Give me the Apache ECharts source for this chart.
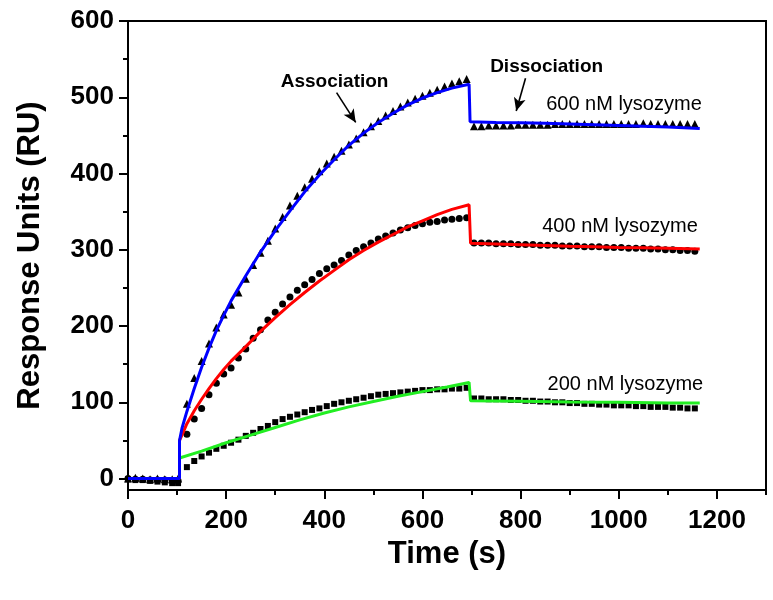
<!DOCTYPE html>
<html>
<head>
<meta charset="utf-8">
<script src="https://cdn.jsdelivr.net/npm/echarts@6/dist/echarts.min.js"></script>
<style>html,body{margin:0;padding:0;background:#fff;}#c{width:773px;height:600px;}</style>
</head>
<body>
<div id="c"></div>
<script>
// ---- measured data (time in s, response in RU) ----
const markerTime = [0,15,30,45,60,75,90,102,
  120,135,150,165,180,195,210,225,240,255,270,285,300,315,330,345,360,375,390,405,420,435,450,465,480,495,510,525,540,555,570,585,600,615,630,645,660,675,690,
  705,720,735,750,765,780,795,810,825,840,855,870,885,900,915,930,945,960,975,990,1005,1020,1035,1050,1065,1080,1095,1110,1125,1140,1155];

const tri600 = [0,1,0,-1,0,-1,-1,0,
  98,132,154,177,198,215,228,244,262,280,296,312,328,343,358,371,382,393,403,413,422,430,438,446,454,462,469,476,482,488,493,498,502,506,510,514,518,521,524,
  462,462,463,463,463,463,464,464,464,464,464,465,465,465,465,465,465,465,465,465,465,465,465,466,465,465,465,465,465,465,465];

const dot400 = [0,-1,-1,-2,-2,-2,-3,-3,
  58,78,92,110,125,137,145,158,170,184,195,208,218,229,238,247,254,261,269,275,280,286,293,299,304,309,314,318,322,326,329,332,334,336,337,339,340,341,342,
  309,309,309,308,308,308,307,307,307,306,306,306,305,305,305,304,304,304,303,303,303,302,302,302,301,301,300,300,299,299,298];

const sq200 = [-1,-2,-2,-3,-4,-5,-6,-6,
  15,23,29,34,39,43,47,51,56,60,65,69,74,78,81,84,87,90,92,95,98,100,102,104,106,108,110,111,112,113,114,115,116,116,117,117,118,118,119,
  105,105,104,104,104,103,103,102,102,101,101,100,100,99,99,98,98,97,97,96,96,96,95,95,94,94,94,93,93,92,92];

const fit600Time = [0,105,105,110,120,135,150,165,180,195,210,240,270,300,330,360,390,420,450,480,510,540,570,600,630,660,695,697,750,800,850,900,950,1000,1050,1100,1165];
const fit600 =     [0,0,50,66,88,118,146,171,194,214,233,266,297,325,351,376,398,418,437,453,467,479,490,499,506,512,517,468,467,466.5,466,465,464,463,462,461,459];

const fit400Time = [0,105,105,112,120,135,150,165,180,195,210,240,270,300,330,360,390,420,450,480,510,540,570,600,630,660,695,698,750,800,850,900,950,1000,1050,1100,1165];
const fit400 =     [0,0,50,60,72,89,104,118,131,143,154,173,193,211,228,244,259,273,287,299,310,320,330,338,346,353,359,308.5,307.5,306.5,305.5,304.5,304,303,302.5,302,301];

const fit200Time = [0,105,105,108,150,200,250,300,350,400,450,500,550,600,650,695,698,800,900,1000,1100,1165];
const fit200 =     [0,0,27,27,36,47,57,67,77,86,94,101,108,114,120,126,102,101.5,100.5,100,99,99];

const xMajorTicks = [0,200,400,600,800,1000,1200];
const xMinorTicks = [100,300,500,700,900,1100,1300];
const yMajorTicks = [0,100,200,300,400,500,600];
const yMinorTicks = [50,150,250,350,450,550];

// annotations (data coordinates)
const annoTexts = [
  {text:'Association', t:421, v:520, bold:true, align:'center'},
  {text:'Dissociation', t:853, v:540, bold:true, align:'center'},
  {text:'600 nM lysozyme', t:852, v:490, bold:false, align:'left'},
  {text:'400 nM lysozyme', t:844, v:330, bold:false, align:'left'},
  {text:'200 nM lysozyme', t:855, v:124, bold:false, align:'left'}
];
const annoArrows = [
  {from:[425,506], to:[464,467]},
  {from:[810,525], to:[791,482]}
];

const pairs = (xs, ys) => xs.map((x, i) => [x, ys[i]]);
const FONT = '"Liberation Sans", Arial, sans-serif';
const X_MIN = 0, X_MAX = 1300, Y_MIN = -15, Y_MAX = 600;

const chart = echarts.init(document.getElementById('c'), null, {renderer:'canvas'});

function xAxisDef(ticks, len, labels, showLine, name) {
  return {
    type:'value', min:X_MIN, max:X_MAX, position:'bottom',
    name: name || '', nameLocation:'middle', nameGap:44,
    nameTextStyle:{fontFamily:FONT, fontWeight:'bold', fontSize:31, color:'#000'},
    axisLine:{show:showLine, onZero:false, lineStyle:{color:'#000', width:2}},
    axisTick:{show:true, inside:false, length:len, customValues:ticks, lineStyle:{color:'#000', width:2}},
    axisLabel:{show:labels, customValues:ticks, margin:18, formatter:v => String(v), fontFamily:FONT, fontWeight:'bold', fontSize:26, color:'#000'},
    splitLine:{show:false}, minorTick:{show:false}
  };
}
function yAxisDef(ticks, len, labels, showLine, name) {
  return {
    type:'value', min:Y_MIN, max:Y_MAX, position:'left',
    name: name || '', nameLocation:'middle', nameGap:82,
    nameTextStyle:{fontFamily:FONT, fontWeight:'bold', fontSize:31, color:'#000'},
    axisLine:{show:showLine, onZero:false, lineStyle:{color:'#000', width:2}},
    axisTick:{show:true, inside:false, length:len, customValues:ticks, lineStyle:{color:'#000', width:2}},
    axisLabel:{show:labels, customValues:ticks, margin:14, formatter:v => String(v), fontFamily:FONT, fontWeight:'bold', fontSize:26, color:'#000'},
    splitLine:{show:false}, minorTick:{show:false}
  };
}

const markerStyle = {color:'#000', opacity:1};

chart.setOption({
  animation:false,
  backgroundColor:'#fff',
  grid:{left:128, right:7, top:21, bottom:110, show:true, borderColor:'#000', borderWidth:2, backgroundColor:'transparent'},
  xAxis:[xAxisDef(xMajorTicks, 9, true, true, 'Time (s)'), xAxisDef(xMinorTicks, 5, false, false)],
  yAxis:[yAxisDef(yMajorTicks, 9, true, true, 'Response Units (RU)'), yAxisDef(yMinorTicks, 5, false, false)],
  series:[
    {type:'scatter', name:'600 nM data', symbol:'triangle', symbolSize:8, itemStyle:markerStyle, data:pairs(markerTime, tri600), z:2},
    {type:'scatter', name:'400 nM data', symbol:'circle', symbolSize:7, itemStyle:markerStyle, data:pairs(markerTime, dot400), z:2},
    {type:'scatter', name:'200 nM data', symbol:'rect', symbolSize:6, itemStyle:markerStyle, data:pairs(markerTime, sq200), z:2},
    {type:'line', name:'200 nM fit', showSymbol:false, symbol:'none', lineStyle:{color:'#22ee22', width:3}, data:pairs(fit200Time, fit200), z:3},
    {type:'line', name:'400 nM fit', showSymbol:false, symbol:'none', lineStyle:{color:'#ff0000', width:3}, data:pairs(fit400Time, fit400), z:4},
    {type:'line', name:'600 nM fit', showSymbol:false, symbol:'none', lineStyle:{color:'#0000ff', width:3}, data:pairs(fit600Time, fit600), z:5,
      markLine:{silent:true, symbol:['none','arrow'], symbolSize:[9,13], animation:false,
        lineStyle:{color:'#000', width:1.6, type:'solid'}, label:{show:false},
        data: annoArrows.map(a => [{coord:a.from}, {coord:a.to}])}
    }
  ]
});

const g = annoTexts.map(a => {
  const p = chart.convertToPixel({gridIndex:0}, [a.t, a.v]);
  return {type:'text', x:p[0], y:p[1], z:10,
    style:{text:a.text, fill:'#000', font:(a.bold?'bold ':'') + (a.bold?'19px ':'20px ') + FONT, align:a.align, verticalAlign:'middle'}};
});
chart.setOption({graphic:g});
</script>
</body>
</html>
